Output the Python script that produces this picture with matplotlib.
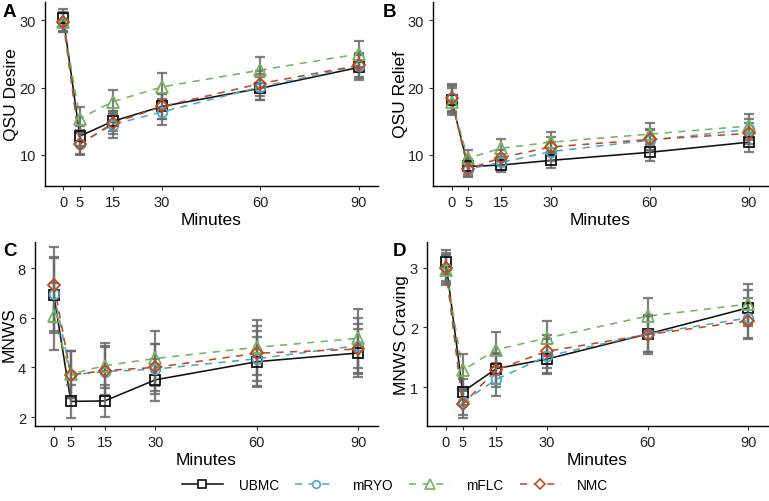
import matplotlib.pyplot as plt
from matplotlib.lines import Line2D

plt.rcParams["font.family"] = ["Liberation Sans", "DejaVu Sans"]

# time points (minutes)
minutes = [0, 5, 15, 30, 60, 90]
groups = ["UBMC", "mRYO", "mFLC", "NMC"]

# QSU Desire (panel A)
desire_ubmc = [30.3, 12.8, 15.0, 17.2, 19.9, 23.0]
desire_mryo = [29.8, 11.7, 14.5, 16.4, 20.1, 23.2]
desire_mflc = [29.7, 15.4, 17.9, 20.1, 22.6, 25.0]
desire_nmc = [29.7, 11.6, 14.7, 17.2, 20.6, 23.3]
desire_err_ubmc = [1.3, 1.5, 1.5, 1.9, 1.7, 1.8]
desire_err_mryo = [1.4, 1.5, 2.0, 1.9, 1.9, 1.8]
desire_err_mflc = [1.4, 1.7, 1.8, 2.0, 1.9, 1.9]
desire_err_nmc = [1.4, 1.6, 1.6, 1.9, 1.9, 1.8]

# QSU Relief (panel B)
relief_ubmc = [18.2, 8.3, 8.5, 9.2, 10.4, 11.9]
relief_mryo = [18.5, 7.9, 8.9, 10.5, 12.2, 13.8]
relief_mflc = [17.9, 9.5, 11.0, 11.9, 13.1, 14.3]
relief_nmc = [18.4, 7.9, 9.6, 11.2, 12.3, 13.2]
relief_err_ubmc = [2.0, 1.1, 1.0, 1.1, 1.3, 1.4]
relief_err_mryo = [2.0, 1.1, 1.2, 1.4, 1.5, 1.6]
relief_err_mflc = [2.0, 1.2, 1.3, 1.5, 1.7, 1.8]
relief_err_nmc = [2.0, 1.0, 1.2, 1.4, 1.5, 1.6]

# MNWS (panel C)
mnws_ubmc = [6.9, 2.63, 2.65, 3.5, 4.23, 4.58]
mnws_mryo = [6.96, 3.7, 3.83, 3.93, 4.35, 4.88]
mnws_mflc = [6.05, 3.73, 4.07, 4.36, 4.81, 5.17]
mnws_nmc = [7.33, 3.7, 3.87, 4.0, 4.57, 4.74]
mnws_err_ubmc = [1.5, 0.65, 0.65, 0.85, 1.0, 0.95]
mnws_err_mryo = [1.5, 0.95, 1.0, 1.0, 1.1, 1.1]
mnws_err_mflc = [1.35, 0.95, 0.9, 1.1, 1.1, 1.2]
mnws_err_nmc = [1.5, 0.95, 1.0, 0.95, 1.1, 1.0]

# MNWS Craving (panel D)
crav_ubmc = [3.1, 0.92, 1.31, 1.47, 1.89, 2.33]
crav_mryo = [2.99, 0.75, 1.13, 1.52, 1.89, 2.16]
crav_mflc = [2.96, 1.28, 1.63, 1.82, 2.19, 2.39]
crav_nmc = [3.0, 0.71, 1.29, 1.6, 1.88, 2.11]
crav_err_ubmc = [0.2, 0.22, 0.25, 0.25, 0.3, 0.3]
crav_err_mryo = [0.22, 0.22, 0.28, 0.28, 0.3, 0.33]
crav_err_mflc = [0.25, 0.27, 0.3, 0.29, 0.3, 0.33]
crav_err_nmc = [0.25, 0.22, 0.28, 0.28, 0.32, 0.3]

colors = {"UBMC": "#111111", "mRYO": "#4DA6C8", "mFLC": "#72B460", "NMC": "#BE4A1E"}
markers = {"UBMC": "s", "mRYO": "o", "mFLC": "^", "NMC": "D"}
styles = {"UBMC": "-", "mRYO": (0, (4.5, 4)), "mFLC": (0, (4.5, 4)), "NMC": (0, (4.5, 4))}
msizes = {"UBMC": 7, "mRYO": 7, "mFLC": 8, "NMC": 6.5}

W, H = 769, 502

# letter, ylabel, series, errors, axes box (px: left, top, right, bottom), ylim, yticks,
# ylabel right edge px, letter position px
panels = [
    ("A", "QSU Desire", [desire_ubmc, desire_mryo, desire_mflc, desire_nmc],
     [desire_err_ubmc, desire_err_mryo, desire_err_mflc, desire_err_nmc],
     (45, 3, 378, 187), (5.4, 32.7), [10, 20, 30], 19, (3, 4)),
    ("B", "QSU Relief", [relief_ubmc, relief_mryo, relief_mflc, relief_nmc],
     [relief_err_ubmc, relief_err_mryo, relief_err_mflc, relief_err_nmc],
     (433, 3, 768, 187), (5.4, 32.7), [10, 20, 30], 408, (383, 4)),
    ("C", "MNWS", [mnws_ubmc, mnws_mryo, mnws_mflc, mnws_nmc],
     [mnws_err_ubmc, mnws_err_mryo, mnws_err_mflc, mnws_err_nmc],
     (35, 243, 378, 427), (1.64, 9.05), [2, 4, 6, 8], 17, (3, 243)),
    ("D", "MNWS Craving", [crav_ubmc, crav_mryo, crav_mflc, crav_nmc],
     [crav_err_ubmc, crav_err_mryo, crav_err_mflc, crav_err_nmc],
     (427, 243, 768, 427), (0.35, 3.43), [1, 2, 3], 409, (393, 243)),
]

fig = plt.figure(figsize=(W / 100, H / 100), dpi=100)

for letter, ylabel, series, errs, box, ylim, yticks, lab_x, let_pos in panels:
    l, t, r, b = box
    ax = fig.add_axes([l / W, 1 - b / H, (r - l) / W, (b - t) / H])
    for g, vals, err in zip(groups, series, errs):
        ax.errorbar(minutes, vals, yerr=err, fmt="none", ecolor="#6a6a6a",
                    elinewidth=1.6, capsize=3.5, capthick=1.6, alpha=0.85, zorder=3)
        ax.plot(minutes, vals, color=colors[g], linestyle=styles[g], linewidth=1.15, zorder=2)
        ax.plot(minutes, vals, linestyle="none", marker=markers[g], markersize=msizes[g],
                markerfacecolor="none", markeredgecolor=colors[g], markeredgewidth=1.3, zorder=4)
    ax.set_xlim(-5.6, 95.8)
    ax.set_ylim(*ylim)
    ax.set_xticks(minutes)
    ax.set_yticks(yticks)
    ax.tick_params(labelsize=10.5, length=3, width=0.8, color="#333333", labelcolor="#222222")
    for s in ["top", "right"]:
        ax.spines[s].set_visible(False)
    for s in ["left", "bottom"]:
        ax.spines[s].set_linewidth(1.0)
    ax.set_ylabel(ylabel, fontsize=12.5)
    ax.yaxis.set_label_coords(lab_x / W, 0.5 * ((1 - b / H) + (1 - t / H)),
                              transform=fig.transFigure)
    ax.set_xlabel("Minutes", fontsize=12.5, labelpad=2)
    fig.text(let_pos[0] / W, 1 - let_pos[1] / H, letter,
             fontsize=13.5, fontweight="bold", va="top", ha="left")

handles = [Line2D([0], [0], color=colors[g], linestyle=styles[g], linewidth=1.15,
                  marker=markers[g], markersize=msizes[g] - 1.5, markerfacecolor="white",
                  markeredgecolor=colors[g], markeredgewidth=1.2) for g in groups]
fig.legend(handles, groups, loc="center", bbox_to_anchor=(395 / W, 1 - 486 / H), ncol=4,
           frameon=False, fontsize=9.8, handlelength=3.0, columnspacing=1.2,
           handletextpad=1.2)

fig.savefig("out.png", dpi=100)
